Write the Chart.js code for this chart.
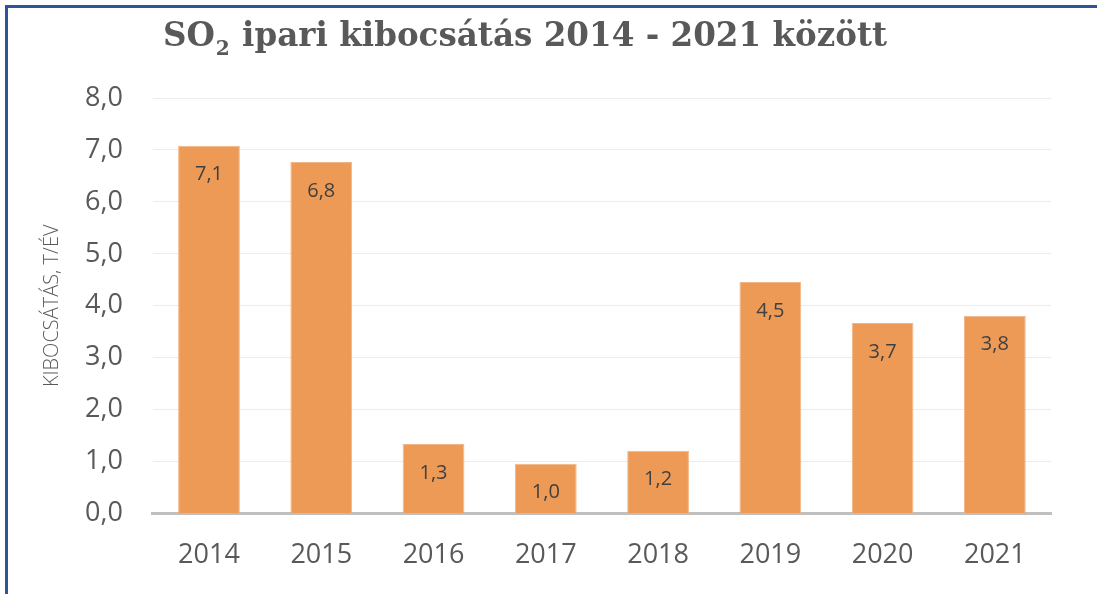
<!DOCTYPE html>
<html>
<head>
<meta charset="utf-8">
<script src="https://cdn.jsdelivr.net/npm/chart.js@4/dist/chart.umd.min.js"></script>
<style>
  html, body { margin: 0; padding: 0; background: #fff; }
  #wrap { position: relative; width: 1097px; height: 594px; overflow: hidden; }
  #frame { position: absolute; left: 5px; top: 5px; width: 1200px; height: 700px;
           border-left: 3px solid #2f5597; border-top: 3px solid #2f5597; box-sizing: border-box; }
  canvas { position: absolute; left: 0; top: 0; }
</style>
</head>
<body>
<div id="wrap">
  <div id="frame"></div>
  <canvas id="chrt" width="1097" height="594"></canvas>
</div>
<script>
const YEARS = ["2014", "2015", "2016", "2017", "2018", "2019", "2020", "2021"];
const SO2_VALUES = [7.08, 6.77, 1.34, 0.96, 1.21, 4.46, 3.67, 3.81];
const Y_TICKS = [0, 1, 2, 3, 4, 5, 6, 7, 8];
const TITLE_PARTS = ["SO", "2", " ipari kibocsátás 2014 - 2021 között"];
const Y_TITLE = "KIBOCSÁTÁS, T/ÉV";

const TXT = "#595959";

function frmt(v) {
  return v.toFixed(1).replace(".", ",");
}

// titulo con subindice + titulo del eje y
const titlePlugin = {
  id: "so2Title",
  afterDraw(chart) {
    const ctx = chart.ctx;
    ctx.save();
    const big = "bold 34px 'DejaVu Serif'";
    const small = "bold 21px 'DejaVu Serif'";
    ctx.font = big;
    const w0 = ctx.measureText(TITLE_PARTS[0]).width;
    const w2 = ctx.measureText(TITLE_PARTS[2]).width;
    ctx.font = small;
    const w1 = ctx.measureText(TITLE_PARTS[1]).width + 2;
    const total = w0 + w1 + w2;
    const sx = 724 / total;
    const y = 46;
    ctx.translate(163, 0);
    ctx.scale(sx, 1);
    let x = 0;
    ctx.fillStyle = TXT;
    ctx.textBaseline = "alphabetic";
    ctx.textAlign = "left";
    ctx.font = big;
    ctx.fillText(TITLE_PARTS[0], x, y);
    x += w0 + 1;
    ctx.font = small;
    ctx.fillText(TITLE_PARTS[1], x, y + 9);
    x += w1 - 1;
    ctx.font = big;
    ctx.fillText(TITLE_PARTS[2], x, y);
    ctx.restore();

    const ca = chart.chartArea;
    ctx.save();
    ctx.translate(52, (ca.top + ca.bottom) / 2);
    ctx.rotate(-Math.PI / 2);
    ctx.font = "300 20px 'Open Sans'";
    ctx.fillStyle = TXT;
    ctx.textAlign = "center";
    ctx.textBaseline = "middle";
    ctx.fillText(Y_TITLE, 0, 0);
    ctx.restore();
  },
};

// etiquetas dentro de la barra
const labelPlugin = {
  id: "barLabels",
  afterDatasetsDraw(chart) {
    const ctx = chart.ctx;
    const meta = chart.getDatasetMeta(0);
    ctx.save();
    ctx.font = "20px 'Open Sans'";
    ctx.fillStyle = "#404040";
    ctx.textAlign = "center";
    ctx.textBaseline = "middle";
    meta.data.forEach((bar, i) => {
      ctx.fillText(frmt(SO2_VALUES[i]), bar.x, bar.y + 29);
    });
    ctx.restore();
  },
};

new Chart(document.getElementById("chrt"), {
  type: "bar",
  data: {
    labels: YEARS,
    datasets: [{
      data: SO2_VALUES,
      backgroundColor: "#ec9a56",
      borderColor: "#f3b587",
      borderWidth: 1,
      barPercentage: 0.55,
      categoryPercentage: 1,
    }],
  },
  options: {
    responsive: false,
    animation: false,
    devicePixelRatio: 1,
    layout: { padding: { top: 98, left: 55, right: 46, bottom: -4 } },
    plugins: {
      legend: { display: false },
      tooltip: { enabled: false },
    },
    scales: {
      x: {
        grid: { display: false, drawTicks: false },
        border: { color: "#bfbfbf", width: 3 },
        ticks: { color: TXT, font: { family: "Open Sans", size: 27 }, padding: 26 },
      },
      y: {
        min: 0,
        max: 8,
        afterBuildTicks: (axis) => { axis.ticks = Y_TICKS.map((v) => ({ value: v })); },
        grid: { color: "#ececec", lineWidth: 1, drawTicks: false },
        border: { display: false },
        ticks: {
          color: TXT,
          font: { family: "Open Sans", size: 27 },
          padding: 30,
          callback: (v) => frmt(v),
        },
      },
    },
  },
  plugins: [titlePlugin, labelPlugin],
});
</script>
</body>
</html>
